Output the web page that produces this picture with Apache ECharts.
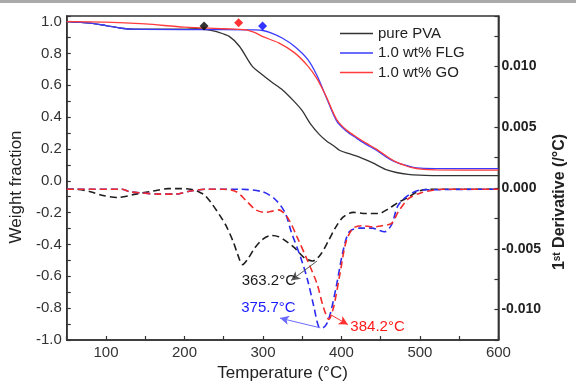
<!DOCTYPE html>
<html>
<head>
<meta charset="utf-8">
<script src="https://cdn.jsdelivr.net/npm/echarts@6/dist/echarts.min.js"></script>
<style>
html,body{margin:0;padding:0;background:#fff;}
#chart{width:576px;height:387px;}
</style>
</head>
<body>
<div id="chart"></div>
<script>
// ---- TGA curves (left axis: weight fraction) ----
const pvaT = [50, 80, 100, 120, 135, 200, 215, 228, 242, 257, 270, 286, 298, 311, 325, 340, 350, 361, 372, 381, 390, 398, 410, 423, 440, 456, 470, 485, 500, 520, 600];
const pvaW = [1.0, 0.99, 0.975, 0.958, 0.952, 0.952, 0.955, 0.95, 0.935, 0.907, 0.845, 0.722, 0.67, 0.62, 0.57, 0.497, 0.44, 0.354, 0.29, 0.25, 0.22, 0.19, 0.17, 0.149, 0.112, 0.072, 0.052, 0.04, 0.035, 0.032, 0.032];

const flgT = [50, 80, 100, 120, 135, 200, 250, 290, 300, 311, 325, 340, 357, 369, 381, 394, 406, 420, 431, 445, 460, 470, 481, 490, 501, 520, 600];
const flgW = [1.0, 0.99, 0.975, 0.958, 0.952, 0.95, 0.95, 0.948, 0.944, 0.927, 0.895, 0.845, 0.763, 0.66, 0.52, 0.374, 0.313, 0.265, 0.23, 0.19, 0.14, 0.115, 0.098, 0.086, 0.079, 0.077, 0.077];

const goT = [50, 100, 150, 200, 250, 278, 290, 299, 320, 340, 357, 369, 381, 394, 406, 420, 431, 445, 460, 470, 481, 490, 501, 520, 600];
const goW = [1.0, 0.997, 0.985, 0.965, 0.955, 0.948, 0.93, 0.907, 0.866, 0.805, 0.722, 0.64, 0.525, 0.385, 0.32, 0.272, 0.238, 0.197, 0.146, 0.117, 0.096, 0.082, 0.073, 0.068, 0.067];

// onset markers (diamonds)
const onsetT = [225, 269, 299.5];
const onsetW = [0.972, 0.993, 0.972];

// ---- DTG curves (right axis: 1st derivative /°C) ----
const pvaDT = [50, 65, 80, 95, 115, 138, 155, 167, 179, 195, 208, 218, 226, 235, 245, 253, 262, 268, 274, 280, 290, 300, 311, 320, 328, 340, 352, 363, 373, 383, 392, 402, 415, 431, 447, 460, 472, 484, 497, 510, 600];
const pvaD = [-0.0001, -0.00012, -0.0003, -0.0006, -0.00078, -0.0005, -0.0003, -0.00016, -0.00005, -0.00005, -0.0001, -0.0003, -0.0006, -0.0013, -0.00225, -0.0031, -0.0044, -0.0055, -0.0063, -0.0059, -0.0049, -0.0042, -0.0039, -0.004, -0.0043, -0.0049, -0.0057, -0.006, -0.0055, -0.0044, -0.0033, -0.0024, -0.002, -0.0021, -0.0021, -0.0017, -0.0012, -0.0008, -0.0003, -0.0001, -0.0001];

const flgDT = [50, 120, 130, 145, 167, 188, 208, 229, 270, 299, 315, 328, 336, 348, 357, 365, 371, 376, 381, 386, 394, 402, 410, 423, 439, 455, 464, 472, 485, 501, 600];
const flgD = [-0.0001, -0.0001, -0.0003, -0.0004, -0.0005, -0.0005, -0.00024, -0.0001, -0.0001, -0.0003, -0.0009, -0.002, -0.0036, -0.0057, -0.0076, -0.0098, -0.0114, -0.0115, -0.0112, -0.0103, -0.0079, -0.0052, -0.0036, -0.0033, -0.0033, -0.0036, -0.003, -0.00145, -0.0006, -0.00016, -0.0001];

const goDT = [50, 120, 130, 145, 167, 188, 208, 229, 250, 266, 278, 291, 303, 312, 320, 332, 344, 357, 369, 377, 384, 390, 398, 406, 415, 427, 440, 452, 464, 472, 485, 501, 518, 530, 600];
const goD = [-0.0001, -0.0001, -0.0003, -0.0004, -0.0005, -0.0005, -0.00024, -0.0001, -0.0001, -0.0003, -0.001, -0.0018, -0.002, -0.0019, -0.0018, -0.0025, -0.0041, -0.006, -0.0079, -0.0098, -0.0108, -0.0098, -0.0071, -0.0044, -0.0033, -0.0031, -0.0032, -0.0031, -0.0029, -0.002, -0.0009, -0.0004, -0.00016, -0.0001, -0.0001];

// ---- peak annotations (data coordinates on the right axis) ----
const peakLabels = ['363.2°C', '375.7°C', '384.2°C'];
const peakLabelAt = [[307.5, -0.00764], [307, -0.00989], [446, -0.01142]];
const arrowFrom = [[369, -0.006], [373, -0.0115], [385.7, -0.0104]];
const arrowTo = [[335.8, -0.0076], [321.7, -0.0107], [408.2, -0.01123]];

const seriesNames = ['pure PVA', '1.0 wt% FLG', '1.0 wt% GO'];

const FONT = 'Liberation Sans, Arial, Helvetica, sans-serif';
const zip = (a, b) => a.map((v, i) => [v, b[i]]);

const solidColors = ['#333333', '#3b3bff', '#ff3b3b'];
const dashColors = ['#1e1e1e', '#2b2bf0', '#f22b2b'];
const markerColors = ['#000000', '#0000ff', '#ff0000'];
const arrowColors = ['#555555', '#6a6aff', '#ff3030'];
const textColors = ['#1a1a1a', '#1a1aff', '#ff1a1a'];

function dtgSeries(idx, T, D) {
  return {
    name: seriesNames[idx] + ' DTG',
    type: 'line',
    xAxisIndex: 0,
    yAxisIndex: 1,
    data: zip(T, D),
    showSymbol: false,
    symbol: 'none',
    smooth: 0.3,
    lineStyle: { color: dashColors[idx], width: 1.6, type: [7, 4] },
    z: 3,
    markLine: {
      silent: true,
      symbol: ['none', 'arrow'],
      symbolSize: [7, 9],
      label: { show: false },
      lineStyle: { color: arrowColors[idx], width: 1, type: 'solid' },
      data: [[{ coord: arrowFrom[idx] }, { coord: arrowTo[idx] }]]
    },
    markPoint: {
      silent: true,
      symbol: 'circle',
      symbolSize: 1,
      itemStyle: { color: 'rgba(0,0,0,0)' },
      label: {
        show: true,
        position: 'inside',
        formatter: '{b}',
        fontFamily: FONT,
        fontSize: 15,
        color: textColors[idx]
      },
      data: [{ name: peakLabels[idx], coord: peakLabelAt[idx] }]
    }
  };
}

function tgaSeries(idx, T, W) {
  return {
    name: seriesNames[idx],
    type: 'line',
    xAxisIndex: 0,
    yAxisIndex: 0,
    data: zip(T, W),
    showSymbol: false,
    symbol: 'none',
    smooth: 0.3,
    lineStyle: { color: solidColors[idx], width: 1.3 },
    itemStyle: { color: solidColors[idx] },
    z: 4
  };
}

const chart = echarts.init(document.getElementById('chart'), null, { renderer: 'canvas' });

const option = {
  animation: false,
  backgroundColor: '#ffffff',
  grid: {
    left: 65.5, right: 66.3, top: 16, bottom: 40,
    show: true, borderColor: '#333', borderWidth: 1.5, backgroundColor: 'transparent'
  },
  graphic: [
    { type: 'rect', shape: { x: 0, y: 0, width: 576, height: 3 }, style: { fill: '#aaaaaa' }, silent: true }
  ],
  legend: {
    data: seriesNames,
    orient: 'vertical',
    left: 335,
    top: 21,
    icon: 'rect',
    itemWidth: 33,
    itemHeight: 1.6,
    itemGap: 4.5,
    textStyle: { fontFamily: FONT, fontSize: 15, color: '#222', lineHeight: 15 }
  },
  xAxis: [{
    type: 'value',
    min: 50, max: 600, interval: 50,
    name: 'Temperature (°C)',
    nameLocation: 'middle',
    nameGap: 25,
    nameTextStyle: { fontFamily: FONT, fontSize: 17, color: '#222' },
    axisLine: { show: true, onZero: false, lineStyle: { color: '#333', width: 1.5 } },
    axisTick: { show: true, inside: true, length: 4, lineStyle: { color: '#333', width: 1.2 } },
    axisLabel: {
      fontFamily: FONT, fontSize: 15, color: '#333', margin: 5,
      formatter: v => (Math.round(v) % 100 === 0 && v > 50) ? String(Math.round(v)) : ''
    },
    splitLine: { show: false }
  }],
  yAxis: [{
    type: 'value',
    position: 'left',
    min: -1, max: 1.035, interval: 0.1,
    name: 'Weight fraction',
    nameLocation: 'middle',
    nameRotate: 90,
    nameGap: 32,
    nameTextStyle: { fontFamily: FONT, fontSize: 17, color: '#222', padding: [0, 18, 0, 0] },
    axisLine: { show: true, onZero: false, lineStyle: { color: '#333', width: 1.5 } },
    axisTick: { show: true, inside: true, length: 4, lineStyle: { color: '#333', width: 1.2 } },
    axisLabel: {
      fontFamily: FONT, fontSize: 15, color: '#333', margin: 5,
      formatter: function (v) {
        const k = Math.round(v * 10);
        if (Math.abs(v * 10 - k) > 1e-6 || k % 2 !== 0 || v > 1.0001) return '';
        if (k === 0) return '0.0';
        return (k / 10).toFixed(1);
      }
    },
    splitLine: { show: false }
  }, {
    type: 'value',
    position: 'right',
    min: -0.0125, max: 0.01415, interval: 0.0025,
    name: '{a|1}{s|st}{a| Derivative (/°C)}',
    nameLocation: 'middle',
    nameRotate: 90,
    nameGap: 45,
    nameTextStyle: {
      fontFamily: FONT, fontSize: 16, fontWeight: 'bold', color: '#222', padding: [0, 48, 0, 0],
      rich: {
        a: { fontFamily: FONT, fontSize: 16, fontWeight: 'bold', color: '#222' },
        s: { fontFamily: FONT, fontSize: 10, fontWeight: 'bold', color: '#222', verticalAlign: 'top' }
      }
    },
    axisLine: { show: true, onZero: false, lineStyle: { color: '#333', width: 1.5 } },
    axisTick: { show: true, inside: true, length: 4, lineStyle: { color: '#333', width: 1.2 } },
    axisLabel: {
      fontFamily: FONT, fontSize: 14, fontWeight: 'bold', color: '#222', margin: 3,
      formatter: function (v) {
        const k = Math.round(v / 0.0025);
        if (Math.abs(v / 0.0025 - k) > 1e-6 || k % 2 !== 0 || v > 0.0101) return '';
        if (k === 0) return '0.000';
        return (k * 0.0025).toFixed(3);
      }
    },
    splitLine: { show: false }
  }],
  series: [
    dtgSeries(0, pvaDT, pvaD),
    dtgSeries(1, flgDT, flgD),
    dtgSeries(2, goDT, goD),
    tgaSeries(0, pvaT, pvaW),
    tgaSeries(1, flgT, flgW),
    tgaSeries(2, goT, goW),
    {
      name: 'onset',
      type: 'scatter',
      xAxisIndex: 0,
      yAxisIndex: 0,
      symbol: 'diamond',
      symbolSize: 9,
      z: 6,
      data: onsetT.map((t, i) => ({
        value: [t, onsetW[i]],
        itemStyle: { color: markerColors[[0, 2, 1][i]] }
      }))
    }
  ]
};

chart.setOption(option);
</script>
</body>
</html>
